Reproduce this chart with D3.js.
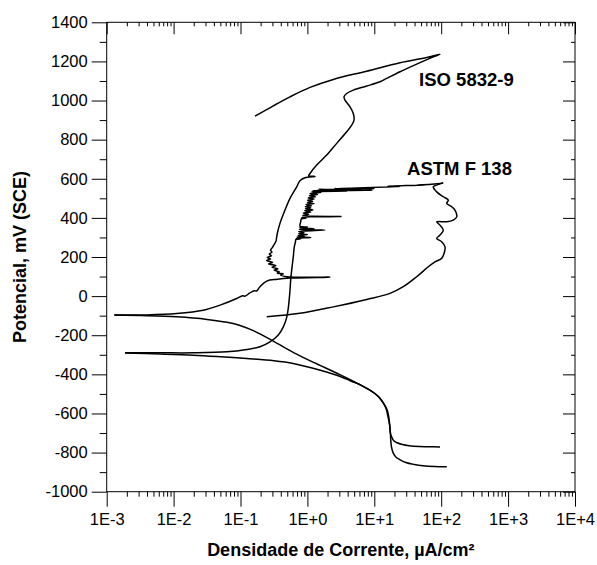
<!DOCTYPE html>
<html lang="pt">
<head>
    <meta charset="UTF-8">
    <title>Curvas de polarização</title>
    <script src="https://d3js.org/d3.v7.min.js"></script>
    <style>
        body { margin: 0; background: #fff; }
        text { font-family: "Liberation Sans", Arial, sans-serif; }
    </style>
</head>
<body>
<svg id="main" width="597" height="565" viewBox="0 0 597 565"></svg>
<script>
    // data: each point is [log10(current density in uA/cm2), potential in mV (SCE)]
    const decadeLabels = ['1E-3', '1E-2', '1E-1', '1E+0', '1E+1', '1E+2', '1E+3', '1E+4'];
    const potentialTicks = [-1000, -800, -600, -400, -200, 0, 200, 400, 600, 800, 1000, 1200, 1400];

    // ISO 5832-9: cathodic branch (from -770 mV up to Ecorr)
    const isoCathodic = [[1.982,-771],[1.8,-770],[1.675,-769],[1.52,-765],[1.42,-759],[1.34,-750],[1.292,-740],
        [1.26,-720],[1.241,-702],[1.23,-660],[1.216,-617],[1.195,-585],[1.165,-562],[1.11,-535],[1.062,-515],
        [0.99,-494],[0.909,-476],[0.78,-452],[0.654,-430],[0.5,-404],[0.347,-379],[0.1,-340],[-0.2,-290],
        [-0.51,-230],[-0.8,-178],[-1.007,-150],[-1.2,-134],[-1.5,-119],[-1.954,-106],[-2.4,-100],[-2.886,-97]];
    // ISO 5832-9: anodic branch up to the top and the reverse scan
    const isoAnodic = [[-2.886,-97],[-2.4,-96],[-1.954,-89],[-1.556,-72],[-1.306,-46],[-1.057,-12],[-0.97,2],
        [-0.93,0],[-0.88,12],[-0.833,22],[-0.79,28],[-0.76,26],[-0.709,48],[-0.608,77],[-0.45,86],[-0.26,92],
        [0.338,97],[-0.30,99],[-0.40,108],[-0.36,114],[-0.45,118],[-0.42,124],[-0.50,133],[-0.44,140],
        [-0.53,148],[-0.47,156],[-0.58,165],[-0.52,172],[-0.61,182],[-0.55,190],[-0.60,198],[-0.54,206],
        [-0.57,215],[-0.53,225],[-0.55,235],[-0.52,250],[-0.50,262],[-0.47,280],[-0.46,300],[-0.45,320],
        [-0.41,372],[-0.335,440],[-0.26,500],[-0.16,559],[-0.111,590],[-0.036,605],[0.114,612],[0.02,615],
        [0.039,627],[0.139,670],[0.288,721],[0.438,781],[0.587,840],[0.662,874],[0.697,900],[0.686,934],
        [0.637,968],[0.562,1002],[0.547,1019],[0.587,1036],[0.686,1053],[0.886,1074],[1.085,1096],[1.185,1113],
        [1.384,1147],[1.634,1186],[1.882,1223],[1.982,1237],
        [1.783,1220],[1.384,1193],[0.886,1150],[0.387,1108],[0.039,1067],[-0.26,1019],[-0.51,973],[-0.783,920]];

    // ASTM F 138: cathodic branch (from -870 mV up to Ecorr)
    const astmCathodic = [[2.084,-872],[1.9,-871],[1.727,-867],[1.6,-861],[1.471,-851],[1.38,-836],[1.318,-821],
        [1.28,-800],[1.256,-770],[1.245,-730],[1.241,-702],[1.23,-660],[1.205,-617],[1.18,-580],[1.139,-549],
        [1.08,-520],[1.011,-498],[0.9,-474],[0.807,-456],[0.65,-434],[0.5,-412],[0.194,-379],[-0.211,-344],
        [-0.5,-330],[-0.907,-319],[-1.3,-310],[-1.705,-302],[-2.2,-296],[-2.726,-291]];
    // ASTM F 138: anodic branch, passive range and breakdown
    const astmAnodic = [[-2.726,-290],[-2.2,-290],[-1.705,-290],[-1.206,-285],[-0.907,-273],[-0.709,-259],
        [-0.559,-234],[-0.435,-199],[-0.36,-157],[-0.31,-110],[-0.285,-60],[-0.27,-10],[-0.26,31],[-0.25,82],
        [-0.235,133],[-0.211,201],[-0.196,252],[-0.18,275],[-0.17,290],[-0.1,293],[-0.165,296],[0.05,300],
        [-0.15,303],[-0.05,307],[-0.14,311],[0.0,315],[-0.13,319],[-0.05,325],[-0.13,330],[0.263,338],
        [-0.12,341],[0.1,345],[-0.12,349],[0.0,353],[-0.11,357],[-0.1,380],[-0.09,395],[-0.02,398],[-0.086,403],
        [0.513,407],[-0.07,411],[0.02,418],[-0.06,424],[0.05,430],[-0.04,436],[0.08,441],[-0.03,447],[0.05,452],
        [-0.03,457],[0.06,462],[-0.02,468],[0.1,473],[0.0,478],[0.08,484],[0.0,490],[0.1,496],[0.013,502],
        [0.12,508],[0.03,514],[0.15,520],[0.04,525],[0.2,530],[0.064,534],[0.6,537],[0.08,539],[0.97,541],
        [0.15,543],[0.8,545],[0.163,546],[1.0,549],[0.4,550],[1.384,560],[1.2,562],[1.75,568],[1.6,566],
        [1.982,576],[2.03,579]];
    // ASTM F 138: reverse scan
    const astmReverse = [[2.03,579],[1.95,570],[1.882,559],[1.933,533],[2.032,508],[2.106,491],[2.082,474],
        [2.157,457],[2.206,440],[2.232,405],[2.181,389],[2.082,380],[1.933,380],[1.982,363],[2.032,337],
        [1.982,312],[1.933,295],[2.007,278],[2.057,252],[2.042,218],[2.007,193],[1.907,175],[1.807,150],
        [1.634,99],[1.433,48],[1.235,14],[0.886,-17],[0.387,-55],[-0.111,-88],[-0.608,-106]];

    const curveLabels = [
        {text: 'ISO 5832-9', at: [1.67, 1075]},
        {text: 'ASTM F 138', at: [1.49, 620]}
    ];

    let svg = d3.select('svg#main');
    let plot = {left: 106.7, right: 575, top: 22.3, bottom: 491.7};

    let xScale = d3.scaleLog().domain([1e-3, 1e4]).range([plot.left, plot.right]);
    let yScale = d3.scaleLinear().domain([-1000, 1400]).range([plot.bottom, plot.top]);

    let decades = d3.range(-3, 5).map(function (p) { return Math.pow(10, p); });
    let minors = [];
    decades.slice(0, -1).forEach(function (d) {
        for (let k = 2; k <= 9; k++) minors.push(d * k);
    });
    let minorY = d3.range(-900, 1400, 200);

    function tidy(g) {
        g.select('.domain').remove();
        g.selectAll('line').attr('stroke', '#000');
    }

    // bottom axis (outward ticks, labelled)
    svg.append('g').attr('transform', 'translate(0,' + plot.bottom + ')')
        .call(d3.axisBottom(xScale).tickValues(decades).tickSize(15).tickPadding(7)
            .tickFormat(function (d, i) { return decadeLabels[i]; }))
        .call(tidy)
        .selectAll('text').attr('font-size', 16.5).attr('fill', '#000').style('font-family', '"Liberation Sans", Arial, sans-serif');
    svg.append('g').attr('transform', 'translate(0,' + plot.bottom + ')')
        .call(d3.axisBottom(xScale).tickValues(minors).tickSize(5).tickFormat(''))
        .call(tidy);
    // top axis (inward ticks)
    svg.append('g').attr('transform', 'translate(0,' + plot.top + ')')
        .call(d3.axisBottom(xScale).tickValues(decades).tickSize(12).tickFormat(''))
        .call(tidy);
    svg.append('g').attr('transform', 'translate(0,' + plot.top + ')')
        .call(d3.axisBottom(xScale).tickValues(minors).tickSize(4).tickFormat(''))
        .call(tidy);

    // left axis (outward ticks, labelled)
    svg.append('g').attr('transform', 'translate(' + plot.left + ',0)')
        .call(d3.axisLeft(yScale).tickValues(potentialTicks).tickSize(15).tickPadding(4)
            .tickFormat(function (d) { return d; }))
        .call(tidy)
        .selectAll('text').attr('font-size', 16.5).attr('fill', '#000').style('font-family', '"Liberation Sans", Arial, sans-serif');
    svg.append('g').attr('transform', 'translate(' + plot.left + ',0)')
        .call(d3.axisLeft(yScale).tickValues(minorY).tickSize(7).tickFormat(''))
        .call(tidy);
    // right axis (inward ticks)
    svg.append('g').attr('transform', 'translate(' + plot.right + ',0)')
        .call(d3.axisLeft(yScale).tickValues(potentialTicks).tickSize(12).tickFormat(''))
        .call(tidy);
    svg.append('g').attr('transform', 'translate(' + plot.right + ',0)')
        .call(d3.axisLeft(yScale).tickValues(minorY).tickSize(4).tickFormat(''))
        .call(tidy);

    // frame
    svg.append('rect')
        .attr('x', plot.left).attr('y', plot.top)
        .attr('width', plot.right - plot.left).attr('height', plot.bottom - plot.top)
        .attr('fill', 'none').attr('stroke', '#000').attr('stroke-width', 1);

    // curves
    let line = d3.line()
        .x(function (d) { return xScale(Math.pow(10, d[0])); })
        .y(function (d) { return yScale(d[1]); })
        .curve(d3.curveCatmullRom.alpha(0.5));

    [isoCathodic, isoAnodic, astmCathodic, astmAnodic, astmReverse].forEach(function (series) {
        svg.append('path')
            .datum(series)
            .attr('d', line)
            .attr('fill', 'none')
            .attr('stroke', '#000')
            .attr('stroke-width', 1.5)
            .attr('stroke-linejoin', 'round');
    });

    // curve labels
    svg.selectAll('text.curve-label')
        .data(curveLabels)
        .enter()
        .append('text')
        .attr('class', 'curve-label')
        .attr('x', function (d) { return xScale(Math.pow(10, d.at[0])); })
        .attr('y', function (d) { return yScale(d.at[1]); })
        .attr('font-size', 18.5)
        .attr('font-weight', 'bold')
        .text(function (d) { return d.text; });

    // axis titles
    svg.append('text')
        .attr('x', (plot.left + plot.right) / 2)
        .attr('y', 556)
        .attr('text-anchor', 'middle')
        .attr('font-size', 18)
        .attr('font-weight', 'bold')
        .text('Densidade de Corrente, µA/cm²');
    svg.append('text')
        .attr('transform', 'translate(26,' + (plot.top + plot.bottom) / 2 + ') rotate(-90)')
        .attr('text-anchor', 'middle')
        .attr('font-size', 18)
        .attr('font-weight', 'bold')
        .text('Potencial, mV (SCE)');
</script>
</body>
</html>
